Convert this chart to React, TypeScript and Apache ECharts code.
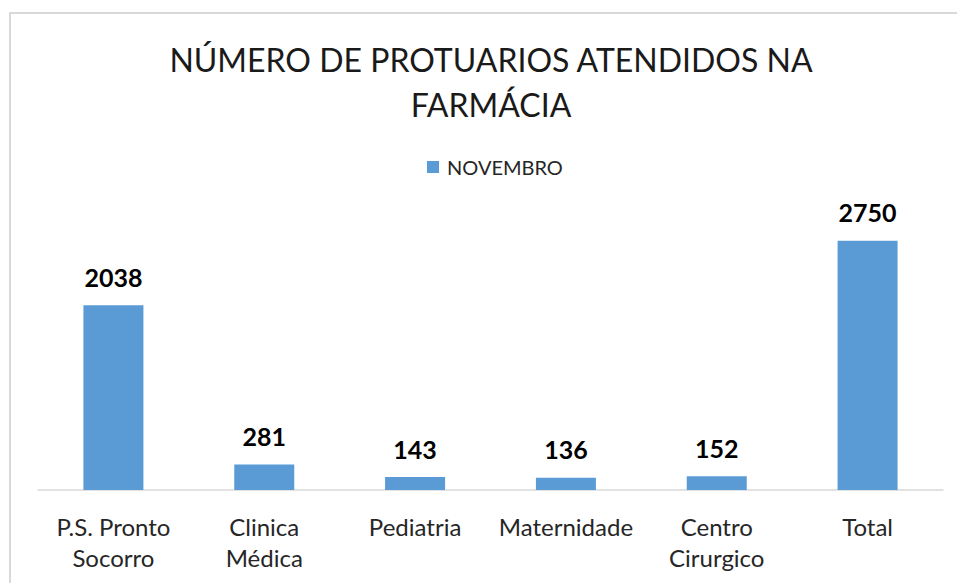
import React, { useEffect, useRef } from "react";
import * as echarts from "echarts";

const categories = ["P.S. Pronto\nSocorro", "Clinica\nMédica", "Pediatria", "Maternidade", "Centro\nCirurgico", "Total"];
const novembro = [2038, 281, 143, 136, 152, 2750];
const seriesName = "NOVEMBRO";
const titleLines = ["NÚMERO DE PROTUARIOS ATENDIDOS NA", "FARMÁCIA"];

export default function App() {
  const ref = useRef<HTMLDivElement>(null);
  useEffect(() => {
    document.body.style.margin = "0";
    const chart = echarts.init(ref.current!, null, { renderer: "svg" });
    const font = "Lato, 'Open Sans', sans-serif";
    chart.setOption({
      animation: false,
      backgroundColor: "#ffffff",
      textStyle: { fontFamily: font },
      graphic: [
        {
          type: "rect",
          shape: { x: 10, y: 13, width: 1000, height: 620 },
          style: { fill: "none", stroke: "#d9d9d9", lineWidth: 2 },
          silent: true,
        },
        {
          type: "text",
          x: 491,
          y: 59,
          style: { text: titleLines[0], fontFamily: font, fontSize: 32, fill: "#1a1a1a", textAlign: "center", textVerticalAlign: "middle" },
        },
        {
          type: "text",
          x: 491,
          y: 104,
          style: { text: titleLines[1], fontFamily: font, fontSize: 32, fill: "#1a1a1a", textAlign: "center", textVerticalAlign: "middle" },
        },
      ],
      legend: {
        data: [seriesName],
        left: 427,
        top: 157,
        padding: 0,
        icon: "rect",
        itemWidth: 12,
        itemHeight: 12,
        textStyle: { fontFamily: font, fontSize: 20, color: "#262626", padding: [0, 0, 0, 3] },
      },
      grid: { left: 38, right: 14, top: 218, bottom: 93 },
      xAxis: {
        type: "category",
        data: categories,
        axisLine: { show: true, lineStyle: { color: "#d9d9d9", width: 1.5 } },
        axisTick: { show: false },
        axisLabel: { interval: 0, fontFamily: font, fontSize: 24, color: "#262626", lineHeight: 31, margin: 21 },
      },
      yAxis: {
        type: "value",
        min: 0,
        max: 3000,
        interval: 500,
        show: false,
        splitLine: { show: false },
      },
      series: [
        {
          name: seriesName,
          type: "bar",
          data: novembro,
          barWidth: 60,
          itemStyle: { color: "#5b9bd5" },
          label: {
            show: true,
            position: "top",
            distance: 16,
            fontFamily: font,
            fontSize: 25,
            fontWeight: "bold",
            color: "#000000",
          },
        },
      ],
    });
    return () => chart.dispose();
  }, []);
  return <div ref={ref} style={{ position: "fixed", left: 0, top: 0, width: 957, height: 583 }} />;
}
